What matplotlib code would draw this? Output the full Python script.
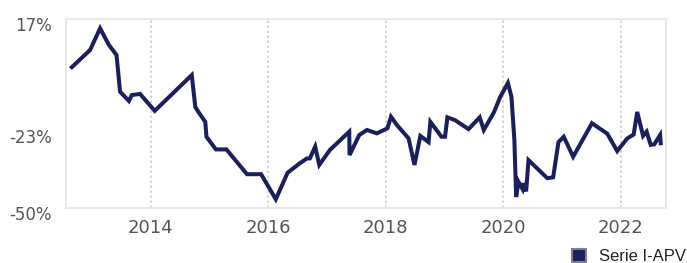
import matplotlib
matplotlib.use("Agg")
import matplotlib.pyplot as plt
import matplotlib.transforms as mtransforms
from matplotlib.patches import Patch

# Data (decimal year, return in %)
years = [2012.66, 2012.97, 2013.14, 2013.29, 2013.42, 2013.48, 2013.63, 2013.68,
         2013.82, 2014.07, 2014.70, 2014.76, 2014.81, 2014.93, 2014.95, 2015.11,
         2015.29, 2015.64, 2015.88, 2016.13, 2016.33, 2016.54, 2016.66, 2016.71,
         2016.80, 2016.87, 2017.05, 2017.38, 2017.385, 2017.55, 2017.68, 2017.85,
         2018.03, 2018.09, 2018.19, 2018.39, 2018.49, 2018.59, 2018.73, 2018.76,
         2018.95, 2019.01, 2019.05, 2019.18, 2019.41, 2019.60, 2019.67, 2019.84,
         2019.95, 2020.08, 2020.14, 2020.19, 2020.22, 2020.26, 2020.33, 2020.35,
         2020.39, 2020.43, 2020.75, 2020.85, 2020.94, 2021.03, 2021.19, 2021.51,
         2021.77, 2021.94, 2022.11, 2022.22, 2022.28, 2022.38, 2022.44, 2022.51,
         2022.57, 2022.67, 2022.68]
values = [0.0, 6.1, 13.8, 7.9, 4.3, -8.7, -12.0, -9.9,
          -9.5, -15.5, -2.8, -14.1, -15.8, -19.4, -24.7, -29.2,
          -29.2, -38.0, -38.0, -46.9, -37.5, -34.1, -32.4, -32.4,
          -28.2, -34.7, -29.4, -22.9, -31.2, -24.1, -22.3, -23.5,
          -21.7, -17.6, -20.5, -25.3, -34.7, -24.4, -26.6, -19.4,
          -24.7, -24.7, -17.8, -18.8, -22.0, -17.8, -22.3, -16.1,
          -10.5, -5.6, -10.5, -25.9, -46.1, -40.7, -43.3, -41.2,
          -44.1, -33.0, -39.4, -39.1, -26.6, -24.7, -31.8, -19.9,
          -23.6, -29.8, -25.3, -23.9, -15.9, -24.4, -22.9, -27.6,
          -27.4, -24.1, -27.0]

series_name = "Serie I-APV"
x_ticks = [2014, 2016, 2018, 2020, 2022]
x_tick_labels = ["2014", "2016", "2018", "2020", "2022"]
y_ticks = [17, -23, -50]
y_tick_labels = ["17%", "-23%", "-50%"]

line_color = "#1b1f5e"
grid_color = "#d0d0d0"
border_color = "#e8e8e8"
text_color = "#555555"

fig = plt.figure(figsize=(6.87, 2.63), dpi=100)
ax = fig.add_axes([66/687, 1-208/263, (666-66)/687, (208-19.3)/263])

ax.plot(years, values, color=line_color, lw=2.9, solid_joinstyle="miter")

ax.set_xlim(2012.56, 2022.77)
ax.set_ylim(-50, 17)

ax.set_xticks(x_ticks)
ax.set_xticklabels(x_tick_labels)
ax.set_yticks(y_ticks)
ax.set_yticklabels(y_tick_labels)

ax.tick_params(axis="x", length=0, pad=8, labelsize=13, labelcolor=text_color)
ax.tick_params(axis="y", length=0, pad=10, labelsize=12, labelcolor=text_color)

ax.grid(axis="x", color=grid_color, linestyle=(0, (1.5, 1.5)), linewidth=1.2)
ax.grid(axis="y", visible=False)
ax.set_axisbelow(True)

for s in ax.spines.values():
    s.set_color(border_color)
    s.set_linewidth(1.5)

# shift y labels down slightly as in reference
offset = mtransforms.ScaledTranslation(0, -4.5/100, fig.dpi_scale_trans)
for lbl in ax.get_yticklabels():
    lbl.set_transform(lbl.get_transform() + offset)

handle = Patch(facecolor=line_color, edgecolor="#808080", linewidth=1.5)
leg = fig.legend([handle], [series_name], loc="upper left",
                 bbox_to_anchor=(572/687, 1-249/263), frameon=False,
                 borderpad=0, borderaxespad=0, handlelength=0.85, handleheight=0.85,
                 handletextpad=0.75, prop={"family": "Liberation Sans", "size": 12},
                 labelcolor="#222222")

fig.savefig("out.png", dpi=100)
